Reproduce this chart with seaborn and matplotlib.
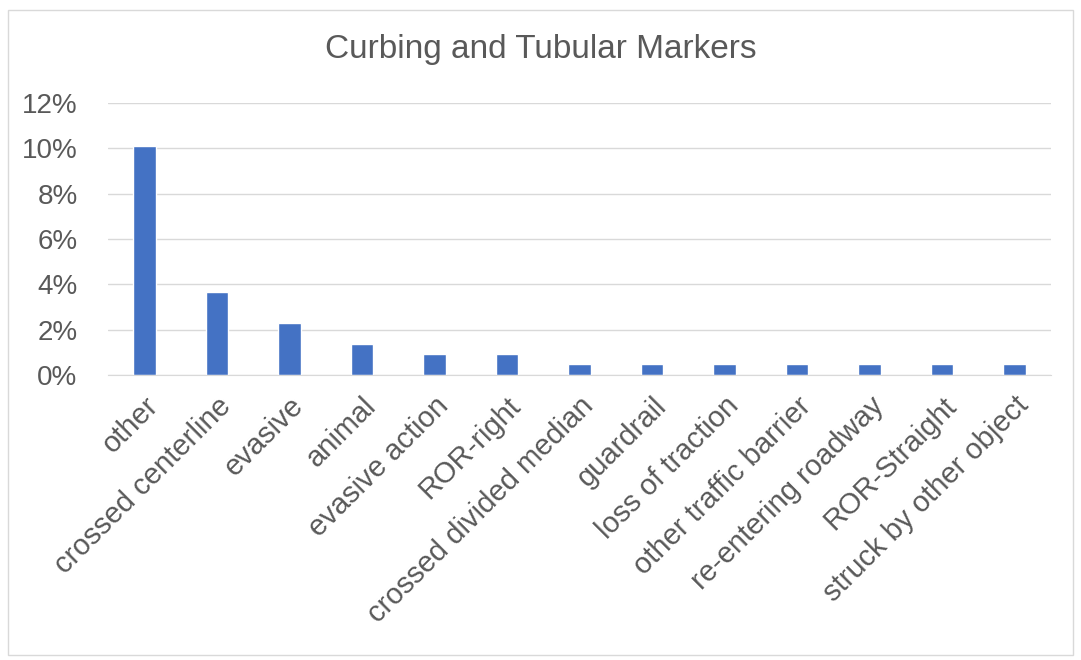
import matplotlib
matplotlib.use("Agg")
import matplotlib.pyplot as plt
import seaborn as sns
import pandas as pd
from matplotlib.ticker import FuncFormatter
from matplotlib.patches import Rectangle

sns.set_style("white")
plt.rcParams['font.family'] = ['Liberation Sans', 'DejaVu Sans']

# Data (share of crashes, %)
categories = [
    "other", "crossed centerline", "evasive", "animal", "evasive action",
    "ROR-right", "crossed divided median", "guardrail", "loss of traction",
    "other traffic barrier", "re-entering roadway", "ROR-Straight",
    "struck by other object",
]
shares = [10.1, 3.67, 2.29, 1.38, 0.92, 0.92, 0.46, 0.46, 0.46, 0.46, 0.46, 0.46, 0.46]

df = pd.DataFrame({"category": categories, "share": shares})

text_color = "#595959"
bar_color = "#4472C4"

fig = plt.figure(figsize=(10.81, 6.6), dpi=100)
ax = fig.add_axes([0.1, 0.432, 0.872, 0.412])

sns.barplot(data=df, x="category", y="share", color=bar_color, width=0.31,
            saturation=1, ax=ax)

ax.set_ylim(0, 12)
ax.set_yticks(range(0, 13, 2))
ax.yaxis.set_major_formatter(FuncFormatter(lambda v, p: f"{v:.0f}%"))
ax.grid(axis="y", color="#D9D9D9", linewidth=1)
ax.set_axisbelow(True)
for s in ["top", "right", "left"]:
    ax.spines[s].set_visible(False)
ax.spines["bottom"].set_color("#D9D9D9")
ax.tick_params(axis="both", length=0, colors=text_color)
ax.tick_params(axis="y", labelsize=20, pad=22)
ax.tick_params(axis="x", labelsize=21, pad=12)
ax.set_xlabel("")
ax.set_ylabel("")
plt.setp(ax.get_xticklabels(), rotation=45, ha="right", rotation_mode="anchor")

fig.text(0.5, 0.948, "Curbing and Tubular Markers", fontsize=24, color=text_color,
         ha="center", va="top")

# light border around the chart area
fig.patches.append(Rectangle((0.007, 0.008), 0.986, 0.977, transform=fig.transFigure,
                             fill=False, edgecolor="#D9D9D9", linewidth=1))

plt.savefig("out.png", dpi=100)
plt.close()
